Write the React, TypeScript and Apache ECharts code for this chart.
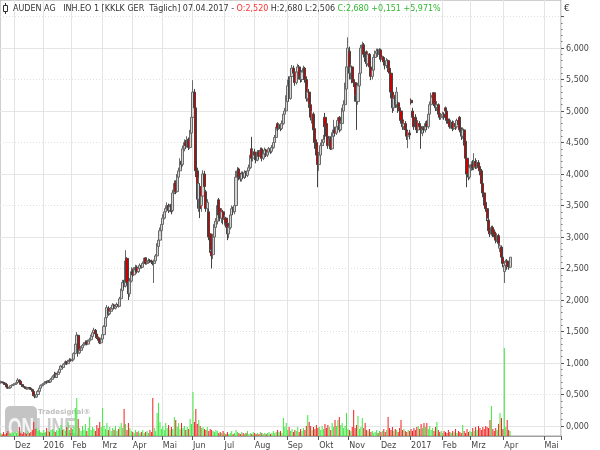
import React, { useEffect, useRef } from 'react';
import * as echarts from 'echarts';

// ---------- axis / calendar ----------
const MONTH_NAMES = ['Jan', 'Feb', 'Mrz', 'Apr', 'Mai', 'Jun', 'Jul', 'Aug', 'Sep', 'Okt', 'Nov', 'Dez'];
const HOLIDAYS = ['2015-12-24', '2015-12-25', '2015-12-31', '2016-01-01', '2016-03-25', '2016-03-28', '2016-05-16', '2016-12-26'];
const FIRST_DAY = [2015, 10, 17];
const LAST_TRADING_DAY = [2017, 3, 7];
const AXIS_END_DAY = [2017, 4, 12];
const PRICE_MIN = 0;
const PRICE_MAX = 6.5;
const PRICE_STEP = 0.5;

// ---------- daily candles: [open, close, low, high] ----------
const NOV_2015 = [
  [0.69, 0.70, 0.67, 0.72], [0.70, 0.69, 0.68, 0.71], [0.69, 0.68, 0.66, 0.70], [0.68, 0.66, 0.65, 0.69], [0.66, 0.62, 0.61, 0.67],
  [0.62, 0.60, 0.59, 0.63], [0.60, 0.61, 0.59, 0.62], [0.61, 0.64, 0.60, 0.65], [0.64, 0.65, 0.63, 0.66], [0.65, 0.66, 0.64, 0.68],
];
const DEC_2015 = [
  [0.66, 0.67, 0.65, 0.68], [0.67, 0.69, 0.66, 0.70], [0.69, 0.73, 0.68, 0.76], [0.73, 0.70, 0.69, 0.74], [0.71, 0.66, 0.65, 0.72],
  [0.66, 0.63, 0.62, 0.67], [0.63, 0.62, 0.61, 0.64], [0.62, 0.60, 0.59, 0.63], [0.60, 0.59, 0.58, 0.61], [0.59, 0.61, 0.58, 0.62],
  [0.61, 0.60, 0.59, 0.62], [0.60, 0.58, 0.57, 0.61], [0.58, 0.55, 0.54, 0.59], [0.55, 0.48, 0.47, 0.56], [0.48, 0.46, 0.44, 0.50],
  [0.46, 0.50, 0.45, 0.52], [0.50, 0.55, 0.49, 0.57], [0.55, 0.60, 0.54, 0.62], [0.60, 0.64, 0.59, 0.66], [0.64, 0.66, 0.63, 0.68],
];
const JAN_2016 = [
  [0.66, 0.67, 0.64, 0.69], [0.67, 0.70, 0.66, 0.71], [0.70, 0.69, 0.68, 0.72], [0.69, 0.72, 0.68, 0.73], [0.72, 0.70, 0.69, 0.73],
  [0.70, 0.74, 0.69, 0.76], [0.74, 0.78, 0.73, 0.79], [0.78, 0.80, 0.77, 0.82], [0.84, 0.77, 0.76, 0.86], [0.77, 0.82, 0.76, 0.83],
  [0.82, 0.85, 0.81, 0.87], [0.85, 0.90, 0.84, 0.91], [0.90, 0.95, 0.89, 0.97], [0.95, 0.93, 0.91, 0.96], [0.93, 0.98, 0.92, 1.00],
  [0.98, 1.02, 0.97, 1.04], [1.02, 0.99, 0.97, 1.03], [0.99, 1.03, 0.98, 1.05], [1.03, 1.05, 1.01, 1.08], [1.05, 1.04, 1.02, 1.07],
];
const FEB_2016 = [
  [1.04, 1.06, 1.02, 1.08], [1.06, 1.15, 1.05, 1.17], [1.15, 1.30, 1.14, 1.32], [1.30, 1.44, 1.28, 1.49], [1.44, 1.16, 1.10, 1.45],
  [1.16, 1.20, 1.14, 1.23], [1.20, 1.24, 1.18, 1.27], [1.24, 1.28, 1.22, 1.30], [1.28, 1.30, 1.25, 1.33], [1.30, 1.33, 1.28, 1.36],
  [1.34, 1.30, 1.28, 1.36], [1.30, 1.35, 1.29, 1.37], [1.35, 1.37, 1.33, 1.40], [1.37, 1.42, 1.36, 1.45], [1.42, 1.48, 1.40, 1.51],
  [1.48, 1.52, 1.46, 1.56], [1.52, 1.46, 1.44, 1.54], [1.46, 1.40, 1.38, 1.48], [1.40, 1.36, 1.33, 1.42], [1.36, 1.32, 1.30, 1.38],
  [1.32, 1.38, 1.30, 1.40],
];
const MAR_2016 = [
  [1.38, 1.45, 1.36, 1.47], [1.45, 1.58, 1.44, 1.60], [1.58, 1.72, 1.56, 1.75], [1.72, 1.88, 1.70, 1.92], [1.87, 1.78, 1.75, 1.90],
  [1.78, 1.82, 1.76, 1.85], [1.82, 1.86, 1.80, 1.89], [1.86, 1.92, 1.84, 1.95], [1.92, 1.87, 1.85, 1.94], [1.87, 1.90, 1.85, 1.93],
  [1.90, 1.93, 1.88, 1.96], [1.93, 1.90, 1.88, 1.95], [1.90, 2.02, 1.89, 2.05], [2.02, 2.15, 2.00, 2.18], [2.15, 2.28, 2.13, 2.32],
  [2.28, 2.22, 2.18, 2.32], [2.22, 2.62, 2.20, 2.79], [2.66, 2.28, 2.25, 2.68], [2.28, 2.10, 2.00, 2.32], [2.10, 2.30, 2.05, 2.35],
  [2.30, 2.45, 2.28, 2.52],
];
const APR_2016 = [
  [2.45, 2.40, 2.36, 2.50], [2.40, 2.48, 2.38, 2.52], [2.48, 2.52, 2.45, 2.56], [2.52, 2.45, 2.42, 2.55], [2.45, 2.50, 2.43, 2.53],
  [2.50, 2.55, 2.48, 2.58], [2.55, 2.52, 2.50, 2.57], [2.52, 2.58, 2.51, 2.61], [2.58, 2.64, 2.56, 2.67], [2.67, 2.58, 2.56, 2.68],
  [2.58, 2.60, 2.56, 2.63], [2.60, 2.63, 2.58, 2.66], [2.63, 2.62, 2.59, 2.65], [2.62, 2.60, 2.57, 2.64], [2.60, 2.58, 2.55, 2.62],
  [2.58, 2.62, 2.27, 2.64], [2.62, 2.70, 2.60, 2.73], [2.70, 2.85, 2.68, 2.90], [2.85, 2.95, 2.82, 3.00], [2.95, 3.10, 2.92, 3.15],
  [3.10, 3.20, 3.05, 3.25],
];
const MAY_2016 = [
  [3.20, 3.30, 3.15, 3.36], [3.30, 3.40, 3.28, 3.45], [3.40, 3.45, 3.36, 3.50], [3.45, 3.50, 3.40, 3.55], [3.50, 3.42, 3.38, 3.53],
  [3.42, 3.48, 3.40, 3.52], [3.52, 3.40, 3.36, 3.54], [3.42, 3.70, 3.40, 3.75], [3.70, 3.85, 3.68, 3.90], [3.87, 3.72, 3.68, 3.90],
  [3.72, 3.95, 3.70, 4.00], [3.95, 4.05, 3.92, 4.10], [4.05, 4.20, 4.02, 4.25], [4.20, 4.15, 4.10, 4.24], [4.15, 4.40, 4.12, 4.45],
  [4.40, 4.50, 4.36, 4.55], [4.50, 4.45, 4.40, 4.54], [4.45, 4.55, 4.42, 4.60], [4.55, 4.42, 4.38, 4.58], [4.42, 4.65, 4.40, 4.70],
  [4.65, 4.90, 4.60, 5.00],
];
const JUN_2016 = [
  [4.90, 5.30, 4.85, 5.49], [5.30, 5.05, 4.95, 5.35], [5.05, 4.05, 3.95, 5.10], [4.05, 3.60, 3.45, 4.10], [3.60, 3.85, 3.40, 3.95],
  [3.80, 3.45, 3.30, 3.85], [3.50, 3.65, 3.40, 3.70], [3.65, 4.00, 3.60, 4.06], [4.00, 3.80, 3.75, 4.05], [3.72, 3.45, 3.40, 3.75],
  [3.45, 3.55, 3.35, 3.60], [3.40, 3.00, 2.95, 3.45], [3.05, 2.80, 2.75, 3.10], [2.78, 2.70, 2.50, 2.85], [2.72, 3.00, 2.65, 3.05],
  [3.00, 3.20, 2.95, 3.25], [3.15, 3.25, 3.08, 3.30], [3.25, 3.50, 3.20, 3.55], [3.59, 3.35, 3.30, 3.62], [3.45, 3.30, 3.25, 3.48],
  [3.30, 3.40, 3.22, 3.45], [3.40, 3.28, 3.20, 3.43],
];
const JUL_2016 = [
  [3.28, 3.30, 3.18, 3.35], [3.30, 3.22, 3.15, 3.32], [3.22, 3.05, 2.95, 3.25], [3.05, 3.15, 2.98, 3.18], [3.15, 3.35, 3.12, 3.38],
  [3.35, 3.45, 3.30, 3.50], [3.45, 3.40, 3.35, 3.48], [3.40, 3.50, 3.36, 3.56], [3.50, 3.95, 3.48, 4.05], [3.95, 4.05, 3.90, 4.11],
  [4.08, 3.95, 3.90, 4.10], [3.98, 3.92, 3.88, 4.02], [3.92, 4.00, 3.88, 4.04], [4.00, 3.95, 3.92, 4.04], [3.95, 4.02, 3.92, 4.06],
  [4.02, 3.98, 3.94, 4.05], [3.98, 4.05, 3.95, 4.08], [4.05, 4.10, 4.02, 4.15], [4.10, 4.30, 4.08, 4.35], [4.40, 4.25, 4.20, 4.59],
  [4.25, 4.35, 4.20, 4.40],
];
const AUG_2016 = [
  [4.35, 4.30, 4.22, 4.40], [4.30, 4.22, 4.17, 4.33], [4.22, 4.35, 4.20, 4.38], [4.35, 4.28, 4.24, 4.38], [4.28, 4.38, 4.25, 4.42],
  [4.40, 4.25, 4.20, 4.42], [4.25, 4.32, 4.22, 4.35], [4.32, 4.38, 4.28, 4.42], [4.38, 4.30, 4.27, 4.40], [4.30, 4.35, 4.27, 4.38],
  [4.35, 4.40, 4.32, 4.43], [4.40, 4.36, 4.32, 4.42], [4.36, 4.42, 4.33, 4.46], [4.42, 4.50, 4.40, 4.55], [4.50, 4.58, 4.48, 4.62],
  [4.58, 4.70, 4.56, 4.75], [4.80, 4.72, 4.68, 4.82], [4.72, 4.78, 4.70, 4.81], [4.78, 4.72, 4.68, 4.80], [4.72, 4.80, 4.70, 4.85],
  [4.80, 4.95, 4.78, 5.00], [4.95, 5.00, 4.90, 5.05], [5.00, 5.15, 4.98, 5.25],
];
const SEP_2016 = [
  [5.15, 5.40, 5.10, 5.50], [5.50, 5.20, 5.15, 5.55], [5.20, 5.55, 5.18, 5.60], [5.55, 5.68, 5.50, 5.73], [5.68, 5.60, 5.52, 5.72],
  [5.62, 5.45, 5.40, 5.66], [5.45, 5.62, 5.42, 5.68], [5.62, 5.70, 5.58, 5.75], [5.70, 5.55, 5.50, 5.73], [5.55, 5.50, 5.45, 5.60],
  [5.50, 5.62, 5.46, 5.65], [5.62, 5.68, 5.58, 5.72], [5.68, 5.50, 5.45, 5.70], [5.50, 5.20, 5.15, 5.55], [5.20, 5.30, 5.15, 5.38],
  [5.30, 5.10, 5.05, 5.35], [5.10, 4.90, 4.85, 5.15], [4.90, 4.95, 4.80, 5.00], [4.95, 4.70, 4.65, 4.98], [4.72, 4.50, 4.40, 4.78],
  [4.50, 4.30, 4.20, 4.55], [4.30, 4.15, 3.79, 4.35],
];
const OCT_2016 = [
  [4.15, 4.30, 4.05, 4.35], [4.30, 4.45, 4.25, 4.50], [4.45, 4.50, 4.38, 4.55], [4.50, 4.55, 4.45, 4.62], [4.90, 4.75, 4.55, 4.97],
  [4.80, 4.60, 4.55, 4.84], [4.60, 4.45, 4.40, 4.65], [4.45, 4.55, 4.40, 4.60], [4.55, 4.40, 4.38, 4.60], [4.40, 4.60, 4.38, 4.66],
  [4.60, 4.70, 4.56, 4.86], [4.70, 4.65, 4.60, 4.75], [4.65, 4.75, 4.62, 4.80], [4.75, 4.85, 4.70, 4.90], [4.90, 4.70, 4.66, 4.92],
  [4.70, 4.80, 4.68, 4.85], [4.80, 5.00, 4.78, 5.05], [5.00, 5.10, 4.97, 5.17], [5.10, 5.35, 5.08, 5.45], [5.35, 5.70, 5.30, 5.85],
  [5.70, 6.00, 5.65, 6.17],
];
const NOV_2016 = [
  [5.95, 5.60, 5.50, 6.02], [5.60, 5.70, 5.50, 5.75], [5.70, 5.50, 5.44, 5.72], [5.50, 5.45, 5.38, 5.55], [5.45, 5.25, 5.15, 5.48],
  [5.25, 5.15, 4.70, 5.30], [5.15, 5.40, 5.10, 5.45], [5.40, 5.60, 5.35, 5.65], [5.60, 6.00, 5.58, 6.05], [6.00, 6.05, 5.92, 6.10],
  [6.05, 5.90, 5.85, 6.08], [5.90, 5.85, 5.78, 5.95], [5.94, 5.75, 5.70, 5.96], [5.75, 5.90, 5.72, 5.94], [5.90, 5.70, 5.65, 5.92],
  [5.70, 5.55, 5.49, 5.74], [5.55, 5.65, 5.50, 5.70], [5.65, 5.85, 5.62, 5.90], [5.85, 5.92, 5.82, 5.96], [5.92, 5.95, 5.88, 5.99],
  [5.97, 5.90, 5.86, 5.99], [5.90, 5.96, 5.86, 6.00],
];
const DEC_2016 = [
  [5.97, 5.82, 5.78, 5.99], [5.82, 5.85, 5.78, 5.88], [5.85, 5.78, 5.72, 5.87], [5.78, 5.72, 5.66, 5.80], [5.72, 5.80, 5.68, 5.84],
  [5.80, 5.68, 5.62, 5.82], [5.68, 5.60, 5.55, 5.70], [5.60, 5.30, 5.20, 5.62], [5.30, 5.05, 4.97, 5.35], [5.05, 5.20, 5.00, 5.25],
  [5.25, 5.10, 5.05, 5.30], [5.10, 5.30, 5.05, 5.38], [5.13, 5.05, 4.97, 5.15], [5.05, 5.00, 4.95, 5.10], [5.00, 4.85, 4.80, 5.02],
  [4.86, 4.75, 4.70, 4.88], [4.75, 4.80, 4.70, 4.84], [4.80, 4.70, 4.65, 4.84], [4.70, 4.60, 4.54, 4.72], [4.60, 4.65, 4.41, 4.68],
  [4.65, 4.62, 4.55, 4.70],
];
const JAN_2017 = [
  [5.17, 5.13, 5.10, 5.20], [5.00, 4.90, 4.85, 5.05], [4.90, 4.75, 4.70, 4.95], [4.90, 4.85, 4.75, 4.95], [4.85, 4.70, 4.65, 4.88],
  [4.70, 4.80, 4.65, 4.85], [4.80, 4.75, 4.70, 4.84], [4.75, 4.65, 4.40, 4.78], [4.65, 4.72, 4.60, 4.76], [4.72, 4.70, 4.65, 4.76],
  [4.70, 4.80, 4.66, 4.84], [4.80, 4.75, 4.70, 4.85], [4.75, 4.95, 4.72, 5.00], [4.95, 5.10, 4.92, 5.15], [5.10, 5.22, 5.05, 5.29],
  [5.22, 5.25, 5.15, 5.29], [5.29, 5.12, 5.08, 5.30], [5.15, 5.05, 5.00, 5.18], [5.05, 5.10, 5.00, 5.14], [5.10, 4.95, 4.90, 5.12],
  [4.95, 4.90, 4.86, 4.98], [4.90, 4.92, 4.86, 4.97],
];
const FEB_2017 = [
  [4.92, 4.95, 4.88, 4.99], [4.95, 4.90, 4.86, 4.98], [5.05, 5.00, 4.95, 5.07], [5.00, 4.85, 4.80, 5.02], [4.85, 4.80, 4.76, 4.88],
  [4.85, 4.75, 4.72, 4.88], [4.75, 4.82, 4.72, 4.86], [4.82, 4.72, 4.68, 4.85], [4.72, 4.80, 4.70, 4.84], [4.80, 4.75, 4.70, 4.83],
  [4.75, 4.85, 4.72, 4.88], [4.85, 4.78, 4.74, 4.88], [4.90, 4.70, 4.66, 4.92], [4.70, 4.60, 4.54, 4.74], [4.60, 4.70, 4.56, 4.74],
  [4.70, 4.50, 4.45, 4.72], [4.52, 4.25, 4.20, 4.55], [4.25, 4.00, 3.79, 4.28], [4.00, 3.95, 3.90, 4.10], [3.95, 4.10, 3.92, 4.15],
];
const MAR_2017 = [
  [4.10, 4.15, 4.05, 4.20], [4.15, 4.10, 4.06, 4.22], [4.10, 4.20, 4.06, 4.33], [4.20, 4.12, 4.08, 4.25], [4.12, 4.18, 4.08, 4.22],
  [4.18, 4.10, 4.06, 4.22], [4.12, 4.05, 3.98, 4.15], [4.05, 3.85, 3.80, 4.08], [3.85, 3.70, 3.63, 3.88], [3.70, 3.55, 3.50, 3.75],
  [3.55, 3.45, 3.40, 3.60], [3.45, 3.30, 3.25, 3.50], [3.27, 3.10, 3.05, 3.30], [3.10, 3.05, 3.00, 3.15], [3.05, 3.15, 3.02, 3.18],
  [3.15, 3.05, 3.00, 3.18], [3.08, 3.00, 2.95, 3.12], [3.00, 2.95, 2.90, 3.05], [2.95, 3.02, 2.92, 3.06], [3.02, 2.90, 2.85, 3.05],
  [2.82, 2.86, 2.76, 2.90], [2.84, 2.68, 2.62, 2.86], [2.68, 2.58, 2.52, 2.72],
];
const APR_2017 = [
  [2.45, 2.55, 2.27, 2.62], [2.55, 2.60, 2.50, 2.64], [2.62, 2.53, 2.48, 2.65], [2.53, 2.529, 2.48, 2.58], [2.52, 2.68, 2.506, 2.68],
];

// ---------- daily volume (thousand shares) ----------
const VOL_NOV_2015 = [3, 2, 4, 2, 3, 5, 2, 3, 4, 3];
const VOL_DEC_2015 = [4, 3, 5, 9, 3, 2, 4, 3, 2, 5, 3, 4, 6, 14, 7, 8, 5, 6, 4, 3];
const VOL_JAN_2016 = [6, 4, 8, 5, 4, 6, 7, 5, 4, 6, 5, 8, 11, 6, 7, 5, 9, 14, 6, 8];
const VOL_FEB_2016 = [7, 9, 28, 38, 17, 8, 5, 10, 6, 12, 5, 8, 19, 6, 9, 7, 5, 11, 8, 14, 9];
const VOL_MAR_2016 = [28, 10, 7, 13, 6, 9, 5, 8, 6, 10, 5, 7, 9, 13, 8, 27, 12, 6, 13, 8, 5];
const VOL_APR_2016 = [4, 3, 6, 4, 5, 3, 4, 6, 3, 4, 5, 3, 6, 4, 38, 8, 5, 23, 33, 14, 7];
const VOL_MAY_2016 = [10, 6, 13, 8, 11, 6, 9, 7, 19, 16, 9, 13, 7, 13, 8, 10, 6, 9, 7, 17, 12];
const VOL_JUN_2016 = [44, 14, 27, 12, 16, 10, 8, 9, 7, 6, 9, 5, 7, 6, 5, 4, 6, 5, 3, 4, 3, 5];
const VOL_JUL_2016 = [3, 2, 4, 2, 3, 5, 2, 3, 6, 4, 3, 2, 4, 3, 2, 3, 5, 2, 3, 2, 4];
const VOL_AUG_2016 = [3, 2, 3, 2, 4, 3, 2, 3, 2, 3, 4, 2, 3, 5, 3, 4, 6, 4, 5, 3, 18, 9, 13];
const VOL_SEP_2016 = [6, 9, 5, 7, 4, 6, 5, 9, 4, 7, 5, 8, 6, 10, 21, 14, 10, 6, 9, 7, 11, 8];
const VOL_OCT_2016 = [9, 6, 10, 7, 12, 8, 11, 9, 6, 13, 9, 16, 10, 16, 19, 11, 13, 8, 10, 23, 7];
const VOL_NOV_2016 = [6, 5, 9, 26, 8, 11, 20, 7, 9, 18, 8, 13, 6, 5, 7, 4, 5, 3, 4, 6, 3, 5];
const VOL_DEC_2016 = [4, 5, 7, 4, 6, 19, 8, 6, 9, 5, 7, 6, 4, 8, 16, 6, 7, 5, 4, 6, 5];
const VOL_JAN_2017 = [7, 5, 8, 6, 9, 10, 7, 12, 8, 13, 9, 13, 7, 10, 6, 8, 5, 9, 14, 6, 4, 5];
const VOL_FEB_2017 = [3, 5, 4, 3, 6, 4, 3, 5, 4, 7, 3, 5, 4, 3, 11, 5, 3, 7, 4, 5];
const VOL_MAR_2017 = [4, 8, 5, 9, 6, 10, 8, 6, 9, 7, 10, 9, 8, 16, 30, 7, 5, 8, 6, 12, 23, 18, 7];
const VOL_APR_2017 = [88, 9, 16, 6, 5];
const VOL_AXIS_MAX = 436;

const OHLC = [
  ...NOV_2015, ...DEC_2015, ...JAN_2016, ...FEB_2016, ...MAR_2016, ...APR_2016, ...MAY_2016, ...JUN_2016, ...JUL_2016,
  ...AUG_2016, ...SEP_2016, ...OCT_2016, ...NOV_2016, ...DEC_2016, ...JAN_2017, ...FEB_2017, ...MAR_2017, ...APR_2017,
];
const VOLUME = [
  ...VOL_NOV_2015, ...VOL_DEC_2015, ...VOL_JAN_2016, ...VOL_FEB_2016, ...VOL_MAR_2016, ...VOL_APR_2016, ...VOL_MAY_2016,
  ...VOL_JUN_2016, ...VOL_JUL_2016, ...VOL_AUG_2016, ...VOL_SEP_2016, ...VOL_OCT_2016, ...VOL_NOV_2016, ...VOL_DEC_2016,
  ...VOL_JAN_2017, ...VOL_FEB_2017, ...VOL_MAR_2017, ...VOL_APR_2017,
];

const TITLE_NAME = 'AUDEN AG   INH.EO 1 [KKLK GER  Täglich] 07.04.2017 - ';

const fmt = (v: number) => v.toFixed(3).replace('.', ',');
const iso = (t: number) => new Date(t).toISOString().slice(0, 10);

function buildDates(): string[] {
  const out: string[] = [];
  const d = new Date(Date.UTC(FIRST_DAY[0], FIRST_DAY[1], FIRST_DAY[2]));
  const lastTrade = Date.UTC(LAST_TRADING_DAY[0], LAST_TRADING_DAY[1], LAST_TRADING_DAY[2]);
  const axisEnd = Date.UTC(AXIS_END_DAY[0], AXIS_END_DAY[1], AXIS_END_DAY[2]);
  while (d.getTime() <= lastTrade) {
    const wd = d.getUTCDay();
    const s = iso(d.getTime());
    if (wd !== 0 && wd !== 6 && HOLIDAYS.indexOf(s) < 0) out.push(s);
    d.setUTCDate(d.getUTCDate() + 1);
  }
  while (d.getTime() <= axisEnd) {
    out.push(iso(d.getTime()));
    d.setUTCDate(d.getUTCDate() + 1);
  }
  return out;
}

export default function App() {
  const ref = useRef<HTMLDivElement>(null);
  useEffect(() => {
    if (!ref.current) return;
    const chart = echarts.init(ref.current, undefined, { renderer: 'svg' });
    const dates = buildDates();
    const isMonthStart = (i: number) => i > 0 && dates[i].slice(0, 7) !== dates[i - 1].slice(0, 7);
    const monthLabel = (v: string) => {
      const m = parseInt(v.slice(5, 7), 10) - 1;
      return m === 0 ? v.slice(0, 4) : MONTH_NAMES[m];
    };
    const volData = VOLUME.map((v, i) => ({
      value: v,
      itemStyle: { color: OHLC[i][1] >= OHLC[i][0] ? '#3de83d' : '#f02020' },
    }));
    const last = OHLC[OHLC.length - 1];
    const prevClose = OHLC[OHLC.length - 2][1];
    const chg = last[1] - prevClose;
    const pct = (chg / prevClose) * 100;
    const sign = (x: number) => (x >= 0 ? '+' : '-');
    const titleText =
      '{a|' + TITLE_NAME + '}{r|O:' + fmt(last[0]) + '}{a| H:' + fmt(last[3]) + ' L:' + fmt(last[2]) + ' }' +
      '{g|C:' + fmt(last[1]) + ' ' + sign(chg) + fmt(Math.abs(chg)) + ' ' + sign(pct) + fmt(Math.abs(pct)) + '%}';
    const font = 'DejaVu Sans';

    chart.setOption({
      animation: false,
      textStyle: { fontFamily: font },
      grid: [
        { left: 0, right: 39, top: 16.5, bottom: 24, show: false },
        { left: 0, right: 39, top: 0, bottom: 14, show: true, borderColor: '#a0a0a0', borderWidth: 1, backgroundColor: 'transparent' },
      ],
      xAxis: [
        { type: 'category', gridIndex: 0, data: dates, show: false, boundaryGap: true },
        {
          type: 'category', gridIndex: 1, data: dates, boundaryGap: true, position: 'bottom',
          axisLine: { show: true, onZero: false, lineStyle: { color: '#a0a0a0' } },
          axisTick: { show: true, interval: (i: number) => isMonthStart(i), length: 4, lineStyle: { color: '#555' } },
          axisLabel: {
            show: true, interval: (i: number) => isMonthStart(i), formatter: monthLabel, align: 'left',
            fontSize: 8, color: '#444', margin: 5, fontFamily: font,
          },
          splitLine: { show: true, interval: (i: number) => isMonthStart(i), lineStyle: { color: '#e4e4e4', width: 1 } },
        },
      ],
      yAxis: [
        {
          type: 'value', gridIndex: 0, position: 'right', min: PRICE_MIN, max: PRICE_MAX, interval: PRICE_STEP,
          axisLine: { show: false },
          axisTick: { show: true, length: 3, lineStyle: { color: '#555' } },
          minorTick: { show: true, splitNumber: 5, length: 1.5, lineStyle: { color: '#777' } },
          axisLabel: { formatter: (v: number) => fmt(v), fontSize: 8, color: '#444', margin: 5, showMaxLabel: false, fontFamily: font },
          splitLine: { show: true, lineStyle: { color: '#e0e0e0', type: [1, 2] } },
        },
        {
          type: 'value', gridIndex: 0, position: 'right', min: PRICE_MIN, max: PRICE_MAX, interval: 1,
          axisLine: { show: false }, axisTick: { show: false }, axisLabel: { show: false },
          splitLine: { show: true, showMaxLine: false, lineStyle: { color: '#e6e6e6' } },
        },
        { type: 'value', gridIndex: 1, min: 0, max: VOL_AXIS_MAX, show: false },
      ],
      series: [
        { type: 'bar', xAxisIndex: 1, yAxisIndex: 2, data: volData, barWidth: 1, silent: true, z: 2 },
        {
          type: 'candlestick', xAxisIndex: 0, yAxisIndex: 0, data: OHLC, barWidth: 2.6, silent: true, z: 3,
          itemStyle: { color: '#d4d4d4', color0: '#d00000', borderColor: '#6a6a6a', borderColor0: '#444444', borderWidth: 1 },
        },
      ],
      graphic: [
        { type: 'rect', z: 1, silent: true, shape: { x: 5, y: 406, width: 32, height: 30, r: 5 }, style: { fill: '#c4c4c4' } },
        { type: 'text', z: 1, silent: true, x: 8, y: 427, scaleX: 0.7, style: { text: 'ON', fill: '#f4f4f4', fontSize: 25, fontWeight: 'bold', fontFamily: 'Liberation Sans', verticalAlign: 'middle' } },
        { type: 'text', z: 1, silent: true, x: 36, y: 427, scaleX: 0.7, style: { text: 'LINE', fill: '#cccccc', fontSize: 25, fontWeight: 'bold', fontFamily: 'Liberation Sans', verticalAlign: 'middle' } },
        { type: 'text', z: 1, silent: true, x: 38, y: 412, style: { text: 'Tradesignal®', fill: '#c0c0c0', fontSize: 7, fontWeight: 'bold', fontFamily: font, verticalAlign: 'middle' } },
        { type: 'line', z: 10, silent: true, shape: { x1: 5.5, y1: 3, x2: 5.5, y2: 14 }, style: { stroke: '#333', lineWidth: 1 } },
        { type: 'rect', z: 10, silent: true, shape: { x: 3.5, y: 5.5, width: 4, height: 6 }, style: { fill: '#fff', stroke: '#333', lineWidth: 1 } },
        {
          type: 'text', z: 10, silent: true, x: 13, y: 8.5,
          style: {
            text: titleText, verticalAlign: 'middle', fontFamily: font, fontSize: 8,
            rich: {
              a: { fill: '#333', fontSize: 8, fontFamily: font },
              r: { fill: '#ff3030', fontSize: 8, fontFamily: font },
              g: { fill: '#30b830', fontSize: 8, fontFamily: font },
            },
          },
        },
        { type: 'text', z: 10, silent: true, x: 564, y: 8, style: { text: '€', fill: '#333', fontSize: 9, fontFamily: font, verticalAlign: 'middle' } },
      ],
    });
    return () => chart.dispose();
  }, []);
  return <div ref={ref} style={{ position: 'fixed', left: 0, top: 0, width: 600, height: 450 }} />;
}
